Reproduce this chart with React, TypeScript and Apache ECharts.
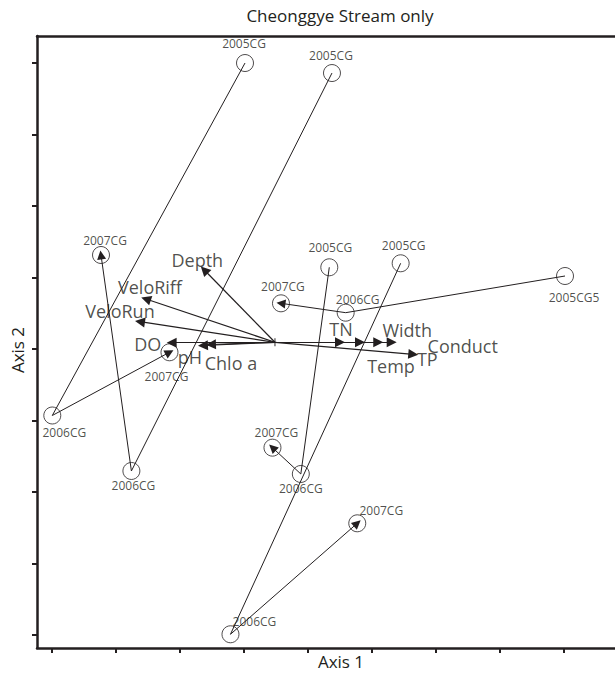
import { useEffect, useRef } from 'react';
import * as echarts from 'echarts';

const TITLE = 'Cheonggye Stream only';
const X_NAME = 'Axis 1';
const Y_NAME = 'Axis 2';
const X_TICKS = [0, 1, 2, 3, 4, 5, 6, 7, 8];
const Y_TICKS = [0, 1, 2, 3, 4, 5, 6, 7, 8];

// Site scores per year (five sites, A..E)
const LABELS_2005 = ['2005CG', '2005CG', '2005CG', '2005CG', '2005CG5'];
const X_2005 = [3.016, 4.375, 4.333, 5.448, 8.016];
const Y_2005 = [8.0, 7.86, 5.143, 5.199, 5.021];

const LABELS_2006 = ['2006CG', '2006CG', '2006CG', '2006CG', '2006CG'];
const X_2006 = [0.005, 1.241, 3.888, 2.789, 4.589];
const Y_2006 = [3.07, 2.294, 2.252, 0.01, 4.508];

const LABELS_2007 = ['2007CG', '2007CG', '2007CG', '2007CG', '2007CG'];
const X_2007 = [1.836, 0.766, 3.445, 4.77, 3.578];
const Y_2007 = [3.954, 5.315, 2.62, 1.562, 4.639];

// Environmental vectors (biplot)
const VEC_ORIGIN = [3.484, 4.094];
const VEC_NAMES = ['Depth', 'VeloRiff', 'VeloRun', 'DO', 'pH', 'Chlo a', 'TN', 'Temp', 'Width', 'Conduct', 'TP'];
const VEC_X = [2.38, 1.469, 1.375, 1.87, 2.359, 2.484, 4.5, 4.8125, 5.098, 5.308, 5.645];
const VEC_Y = [5.105, 4.699, 4.382, 4.088, 4.049, 4.063, 4.094, 4.094, 4.094, 4.094, 3.926];

// label layout (pixel offsets) — styling only
const OFF_2005 = [[-1, -20], [-1, -18], [1, -20], [3, -18], [9, 21]];
const OFF_2006 = [[12, 17], [2, 15], [0, 15], [24, -13], [12, -13]];
const OFF_2007 = [[-3, 24], [4, -14], [4, -15], [24, -13], [2, -17]];
const VEC_OFF = [[-7, -10], [4, -12], [-20, -11], [-24, 1], [-13, 11], [20, 18], [1, -13], [31, 24], [29, -12], [71, 4], [14, 5]];

const INK = '#231f20';
const FONT = '"Open Sans", "Noto Sans", sans-serif';

export default function App() {
  const ref = useRef<HTMLDivElement>(null);
  useEffect(() => {
    const chart = echarts.init(ref.current!, null, { renderer: 'svg' });

    const sitePoints: any[] = [];
    const addYear = (xs: number[], ys: number[], labels: string[], offs: number[][]) => {
      xs.forEach((x, i) => {
        sitePoints.push({ name: labels[i], value: [x, ys[i]], label: { offset: offs[i] } });
      });
    };
    addYear(X_2005, Y_2005, LABELS_2005, OFF_2005);
    addYear(X_2006, Y_2006, LABELS_2006, OFF_2006);
    addYear(X_2007, Y_2007, LABELS_2007, OFF_2007);

    const seg0506 = X_2005.map((x, i) => ({ coords: [[x, Y_2005[i]], [X_2006[i], Y_2006[i]]] }));
    const seg0607 = X_2006.map((x, i) => ({ coords: [[x, Y_2006[i]], [X_2007[i], Y_2007[i]]] }));
    const vecLines = VEC_X.map((x, i) => ({ coords: [VEC_ORIGIN, [x, VEC_Y[i]]] }));
    const vecTips = VEC_X.map((x, i) => ({ name: VEC_NAMES[i], value: [x, VEC_Y[i]], label: { offset: VEC_OFF[i] } }));

    const xMin = -0.234, xMax = 8.797, yMin = -0.182, yMax = 8.378;

    const option: any = {
      animation: false,
      backgroundColor: '#fff',
      textStyle: { fontFamily: FONT },
      title: {
        text: TITLE,
        left: 335,
        textAlign: 'center',
        top: 2,
        textStyle: { fontFamily: FONT, fontSize: 17, fontWeight: 'normal', color: INK },
      },
      graphic: [
        {
          type: 'text', x: 341, y: 661,
          style: { text: X_NAME, font: '17px ' + FONT, fill: INK, textAlign: 'center', textVerticalAlign: 'middle' },
        },
        {
          type: 'text', x: 17, y: 350, rotation: Math.PI / 2,
          style: { text: Y_NAME, font: '17px ' + FONT, fill: INK, textAlign: 'center', textVerticalAlign: 'middle' },
        },
      ],
      grid: { left: 37, right: 0, top: 36, bottom: 25, outerBoundsMode: 'none', containLabel: false },
      xAxis: [
        {
          type: 'value', min: xMin, max: xMax, position: 'bottom',
          axisLine: { show: true, onZero: false, lineStyle: { color: INK, width: 2.5 } },
          axisTick: { show: true, inside: false, length: 5, customValues: X_TICKS, lineStyle: { color: INK, width: 2 } },
          axisLabel: { show: false },
          splitLine: { show: false },
        },
        {
          type: 'value', min: xMin, max: xMax, position: 'top',
          axisLine: { show: true, onZero: false, lineStyle: { color: INK, width: 2.5 } },
          axisTick: { show: false }, axisLabel: { show: false }, splitLine: { show: false },
        },
      ],
      yAxis: {
        type: 'value', min: yMin, max: yMax,
        axisLine: { show: true, onZero: false, lineStyle: { color: INK, width: 2.5 } },
        axisTick: { show: true, inside: false, length: 5, customValues: Y_TICKS, lineStyle: { color: INK, width: 2 } },
        axisLabel: { show: false },
        splitLine: { show: false },
      },
      series: [
        {
          type: 'lines', coordinateSystem: 'cartesian2d', xAxisIndex: 0, yAxisIndex: 0,
          symbol: ['none', 'none'],
          lineStyle: { color: INK, width: 1, opacity: 1 },
          data: seg0506,
          silent: true,
        },
        {
          type: 'lines', coordinateSystem: 'cartesian2d', xAxisIndex: 0, yAxisIndex: 0,
          symbol: ['none', 'triangle'], symbolSize: [6, 9],
          lineStyle: { color: INK, width: 1, opacity: 1 },
          data: seg0607,
          silent: true,
        },
        {
          type: 'lines', coordinateSystem: 'cartesian2d', xAxisIndex: 0, yAxisIndex: 0,
          symbol: ['none', 'triangle'], symbolSize: [7, 10],
          lineStyle: { color: INK, width: 1.2, opacity: 1 },
          data: vecLines,
          silent: true,
        },
        {
          type: 'scatter', xAxisIndex: 0, yAxisIndex: 0,
          symbol: 'circle', symbolSize: 17,
          itemStyle: { color: 'rgba(0,0,0,0)', borderColor: INK, borderWidth: 1 },
          label: {
            show: true, position: 'inside', formatter: '{b}',
            fontFamily: FONT, fontSize: 12, color: INK,
          },
          data: sitePoints,
          z: 5,
        },
        {
          type: 'scatter', xAxisIndex: 0, yAxisIndex: 0,
          symbol: 'rect', symbolSize: [1.2, 8],
          itemStyle: { color: INK },
          data: [VEC_ORIGIN],
        },
        {
          type: 'scatter', xAxisIndex: 0, yAxisIndex: 0,
          symbol: 'circle', symbolSize: 1,
          itemStyle: { color: 'rgba(0,0,0,0)' },
          label: {
            show: true, position: 'inside', formatter: '{b}',
            fontFamily: FONT, fontSize: 18, color: INK,
          },
          data: vecTips,
          z: 6,
        },
      ],
    };
    chart.setOption(option);
    return () => chart.dispose();
  }, []);
  return (
    <div
      ref={ref}
      style={{ position: 'absolute', left: 0, top: 0, width: 615, height: 673, background: '#fff' }}
    />
  );
}
